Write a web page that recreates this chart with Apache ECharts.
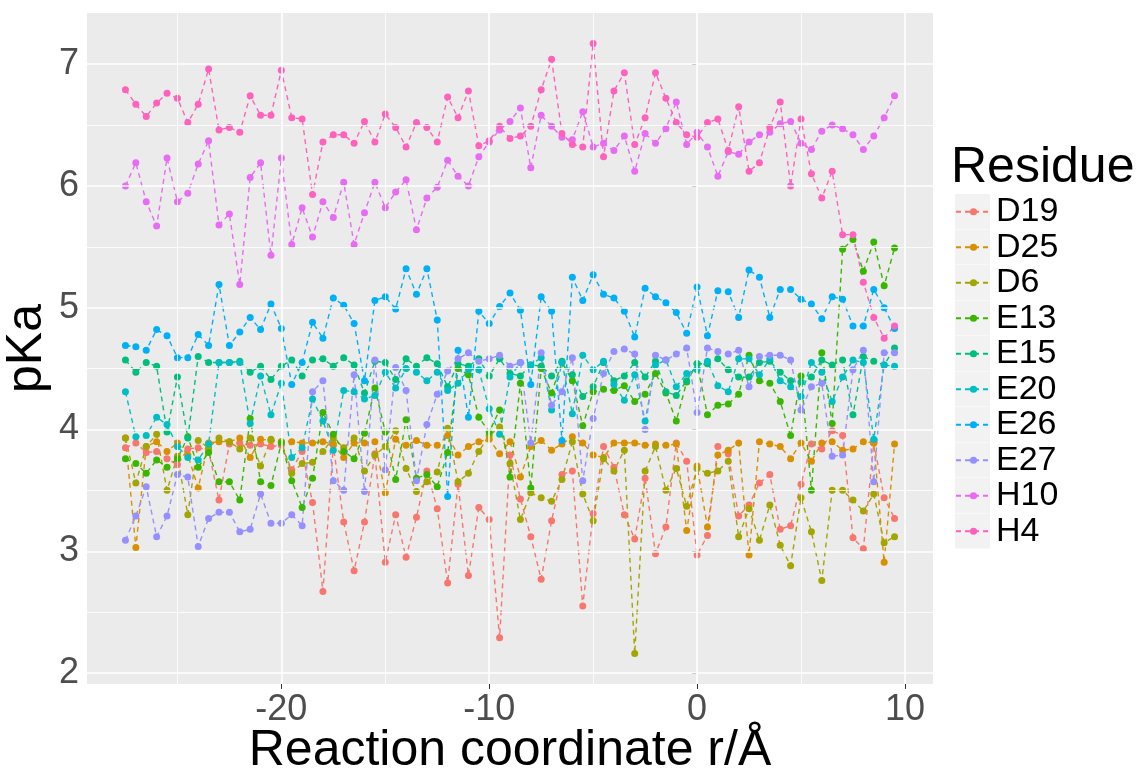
<!DOCTYPE html>
<html><head><meta charset="utf-8">
<script src="https://cdn.jsdelivr.net/npm/echarts@6/dist/echarts.min.js"></script>
<style>html,body{margin:0;padding:0;background:#fff}#c{width:1143px;height:770px}</style>
</head><body><div id="c"></div>
<script>
const xValues = [-27.5,-27,-26.5,-26,-25.5,-25,-24.5,-24,-23.5,-23,-22.5,-22,-21.5,-21,-20.5,-20,-19.5,-19,-18.5,-18,-17.5,-17,-16.5,-16,-15.5,-15,-14.5,-14,-13.5,-13,-12.5,-12,-11.5,-11,-10.5,-10,-9.5,-9,-8.5,-8,-7.5,-7,-6.5,-6,-5.5,-5,-4.5,-4,-3.5,-3,-2.5,-2,-1.5,-1,-0.5,0,0.5,1,1.5,2,2.5,3,3.5,4,4.5,5,5.5,6,6.5,7,7.5,8,8.5,9,9.5];
const D19 = [3.85,3.89,3.81,3.82,3.76,3.71,3.84,3.85,3.83,3.42,3.88,3.89,3.87,3.88,3.86,3.87,3.67,3.82,
3.40,2.67,3.87,3.24,2.84,3.24,3.80,2.91,3.30,2.95,3.28,3.66,3.35,2.74,3.55,2.80,3.36,3.26,2.29,3.79,
3.43,3.12,2.77,3.25,3.63,3.66,2.55,3.31,3.86,3.69,3.30,3.10,3.60,2.98,3.20,3.89,3.74,2.97,3.13,3.86,
3.80,3.29,3.38,3.56,3.63,3.18,3.21,3.55,3.88,3.84,3.99,3.95,3.11,3.02,3.89,3.44,3.27];
const D25 = [3.93,3.03,3.86,3.90,3.82,3.89,3.79,3.52,3.89,3.90,3.90,3.93,3.77,3.92,3.91,3.90,3.90,3.89,
3.89,3.90,3.88,3.77,3.89,3.89,3.90,3.48,3.92,3.87,3.91,3.87,3.87,3.95,3.79,3.86,3.90,3.92,3.80,3.90,
3.61,3.86,3.91,3.83,3.88,3.94,3.89,3.79,3.77,3.89,3.89,3.89,3.87,3.88,3.87,3.88,3.17,3.70,3.20,3.79,
3.83,3.89,2.97,3.90,3.88,3.86,3.76,3.89,3.74,3.89,3.90,3.83,3.84,3.90,3.89,2.91,3.88];
const D6 = [3.93,3.56,3.86,3.96,3.50,3.78,3.30,3.91,3.85,3.93,3.90,3.84,3.93,3.70,3.92,3.90,3.64,3.72,
3.73,3.82,3.93,3.85,3.93,3.66,3.79,3.86,3.99,3.68,3.49,3.57,3.65,4.01,3.57,3.64,3.82,3.95,4.02,3.72,
3.26,3.48,3.44,3.41,3.59,3.90,3.47,3.25,3.76,3.66,3.83,2.16,3.66,3.86,3.50,3.68,3.37,3.68,3.64,3.66,
3.74,3.12,3.35,3.09,3.38,3.05,2.88,3.44,3.16,2.76,3.50,3.50,3.42,3.33,3.47,3.07,3.12];
const E13 = [3.76,3.72,3.64,3.75,3.69,3.76,3.94,3.69,3.81,3.57,3.57,3.42,4.09,3.57,3.54,3.89,3.58,3.36,
3.60,4.14,3.96,3.82,3.76,3.97,4.34,3.98,3.59,4.08,3.60,3.63,3.53,3.81,4.50,4.45,4.10,3.98,4.16,3.61,
4.38,3.52,4.50,4.30,4.55,4.40,4.03,4.31,4.33,4.32,4.36,4.23,4.29,4.46,4.30,4.07,4.39,4.54,4.12,4.20,
4.21,4.29,4.61,4.40,4.38,4.23,3.95,4.44,3.50,4.63,4.05,5.48,5.56,5.30,5.54,5.18,5.49];
const E15 = [4.57,4.47,4.55,4.52,3.98,4.43,3.93,4.60,4.55,4.55,4.55,4.56,4.47,4.52,4.41,4.52,4.57,4.44,
4.57,4.58,4.52,4.59,4.53,4.30,4.56,4.55,4.41,4.58,4.52,4.59,4.54,4.35,4.54,4.52,4.58,4.44,4.58,4.46,
4.44,4.53,4.52,4.44,4.56,4.45,4.27,4.35,4.55,4.40,4.44,4.55,4.43,4.56,4.31,4.28,4.40,4.54,4.54,4.58,
4.49,4.43,4.43,4.55,4.56,4.47,4.40,4.39,4.43,4.57,4.53,4.57,4.12,4.60,4.56,4.53,4.67];
const E20 = [4.31,3.94,3.95,4.10,4.04,3.86,3.77,3.75,3.88,4.55,4.55,4.55,4.05,4.44,4.12,4.38,3.77,3.85,
4.25,4.07,3.83,4.32,4.31,4.25,4.28,4.47,4.34,4.50,4.47,4.40,4.47,4.32,4.38,4.49,4.49,4.17,3.96,4.43,
4.55,4.53,4.59,4.16,4.55,4.13,4.61,4.49,4.56,4.37,4.24,4.45,4.07,4.53,4.57,4.35,4.46,4.49,4.56,4.36,
4.31,4.58,4.58,4.45,4.58,4.40,4.35,4.27,4.55,4.47,4.23,4.43,4.57,4.55,3.92,4.53,4.52];
const E26 = [4.69,4.68,4.65,4.82,4.77,4.59,4.59,4.78,4.69,5.19,4.69,4.80,4.92,4.82,5.03,4.83,4.37,4.55,
4.88,4.75,5.08,5.02,4.87,4.40,5.06,5.09,4.99,5.32,5.11,5.32,4.90,3.45,4.65,4.10,4.97,4.87,5.01,5.12,
4.98,4.37,5.09,4.97,3.91,5.25,5.06,5.27,5.11,5.08,4.97,4.76,5.16,5.09,5.04,4.96,4.79,5.17,4.77,5.14,
5.13,4.92,5.31,5.25,4.92,5.15,5.15,5.07,5.03,4.91,5.09,5.07,4.85,4.85,5.15,5.00,4.83];
const E27 = [3.09,3.29,3.53,3.12,3.29,3.63,3.61,3.04,3.27,3.32,3.32,3.16,3.18,3.47,3.23,3.23,3.30,3.21,
4.31,4.40,3.58,3.50,4.45,3.49,4.57,3.67,4.51,4.32,3.58,4.04,4.29,4.48,4.58,4.63,4.56,4.58,4.61,4.52,
4.55,3.89,4.63,4.20,4.31,4.59,3.58,4.09,4.46,4.64,4.66,4.62,4.00,4.61,4.57,4.62,4.67,4.14,4.67,4.64,
4.62,4.65,4.35,4.60,4.61,4.61,4.57,4.16,4.35,4.38,3.78,3.79,4.49,4.65,3.57,4.63,4.63];
const H10 = [6.00,6.19,5.87,5.67,6.23,5.87,5.94,6.18,6.37,5.68,5.77,5.19,6.07,6.19,5.43,6.23,5.52,5.82,
5.58,5.87,5.74,6.03,5.52,5.78,6.03,5.82,5.95,6.05,5.64,5.90,5.99,6.21,6.08,6.00,6.24,6.36,6.46,6.53,
6.64,6.15,6.58,6.49,6.40,6.38,6.61,6.32,6.35,6.29,6.41,6.12,6.43,6.35,6.47,6.69,6.34,6.44,6.32,6.08,
6.28,6.26,6.36,6.42,6.44,6.51,6.53,6.35,6.30,6.45,6.50,6.47,6.42,6.30,6.41,6.56,6.74];
const H4 = [6.79,6.67,6.57,6.68,6.76,6.72,6.52,6.67,6.96,6.46,6.48,6.44,6.74,6.58,6.58,6.95,6.56,6.55,
5.93,6.36,6.42,6.42,6.35,6.53,6.36,6.59,6.48,6.32,6.52,6.48,6.36,6.73,6.56,6.78,6.33,6.37,6.49,6.39,
6.41,6.49,6.79,7.04,6.43,6.34,6.32,7.17,6.24,6.78,6.93,6.34,6.56,6.93,6.72,6.52,6.42,6.40,6.52,6.55,
6.29,6.65,6.12,6.19,6.48,6.69,6.00,6.55,6.10,5.90,6.12,5.60,5.60,5.21,4.92,4.75,4.85];

const residues = ['D19','D25','D6','E13','E15','E20','E26','E27','H10','H4'];
const seriesValues = [D19, D25, D6, E13, E15, E20, E26, E27, H10, H4];
const colors = ['#F8766D','#D89000','#A3A500','#39B600','#00BF7D','#00BFC4','#00B0F6','#9590FF','#E76BF3','#FF62BC'];
const xTicks = [-20,-10,0,10];
const xMinorTicks = [-25,-15,-5,5];
const yTicks = [2,3,4,5,6,7];
const yMinorTicks = [2.5,3.5,4.5,5.5,6.5];

const FONT = 'Liberation Sans, Arial, sans-serif';
const chart = echarts.init(document.getElementById('c'), null, {renderer:'canvas'});

const gridLines = [];
xMinorTicks.forEach(v => gridLines.push({xAxis: v, lineStyle:{width:0.8}}));
yMinorTicks.forEach(v => gridLines.push({yAxis: v, lineStyle:{width:0.8}}));
xTicks.forEach(v => gridLines.push({xAxis: v, lineStyle:{width:1.6}}));
yTicks.forEach(v => gridLines.push({yAxis: v, lineStyle:{width:1.6}}));

const series = [{
  type:'line', data:[], z:1, silent:true,
  markLine:{silent:true, symbol:['none','none'], label:{show:false},
    lineStyle:{color:'#FFFFFF', type:'solid'}, animation:false, data: gridLines}
}];
residues.forEach((name, k) => {
  series.push({
    name, type:'line', z:2,
    data: xValues.map((x,i) => [x, seriesValues[k][i]]),
    symbol:'circle', symbolSize:7, showSymbol:true,
    itemStyle:{color: colors[k]},
    lineStyle:{color: colors[k], width:1.4, type:[5,4]},
    emphasis:{disabled:true}, animation:false
  });
});

const keyRects = residues.map((r,k) => ({
  type:'rect', left:955, top:194 + k*35.5, z:0,
  shape:{width:35, height:35}, style:{fill:'#F2F2F2'}
}));

chart.setOption({
  animation:false,
  backgroundColor:'#FFFFFF',
  textStyle:{fontFamily:FONT},
  title:{text:'Residue', left:946, top:138, textStyle:{fontSize:50, fontWeight:'normal', color:'#000', fontFamily:FONT}},
  grid:{left:87, top:13, width:846, height:671, show:true, backgroundColor:'#EBEBEB', borderWidth:0,
    containLabel:false, outerBoundsMode:'none'},
  xAxis:{type:'value', min:-29.35, max:11.35,
    name:'Reaction coordinate r/Å', nameLocation:'middle', nameGap:42, nameMoveOverlap:false,
    nameTextStyle:{fontSize:50, color:'#000', fontFamily:FONT, verticalAlign:'top'},
    axisLine:{show:false}, splitLine:{show:false},
    axisTick:{show:true, length:5, lineStyle:{color:'#333333', width:1}, customValues:xTicks},
    axisLabel:{fontSize:36, color:'#4D4D4D', margin:8, fontFamily:FONT, customValues:xTicks}},
  yAxis:{type:'value', min:1.91, max:7.42,
    name:'pKa', nameLocation:'middle', nameGap:35, nameRotate:90, nameMoveOverlap:false,
    nameTextStyle:{fontSize:50, color:'#000', fontFamily:FONT},
    axisLine:{show:false}, splitLine:{show:false},
    axisTick:{show:true, length:5, lineStyle:{color:'#333333', width:1}, customValues:yTicks},
    axisLabel:{fontSize:36, color:'#4D4D4D', margin:8, fontFamily:FONT, customValues:yTicks}},
  legend:{orient:'vertical', left:950, top:189, itemWidth:35, itemHeight:9, itemGap:0,
    data: residues, selectedMode:false,
    textStyle:{fontSize:34, color:'#000', lineHeight:35.5, fontFamily:FONT}},
  graphic: keyRects,
  series
});
</script></body></html>
